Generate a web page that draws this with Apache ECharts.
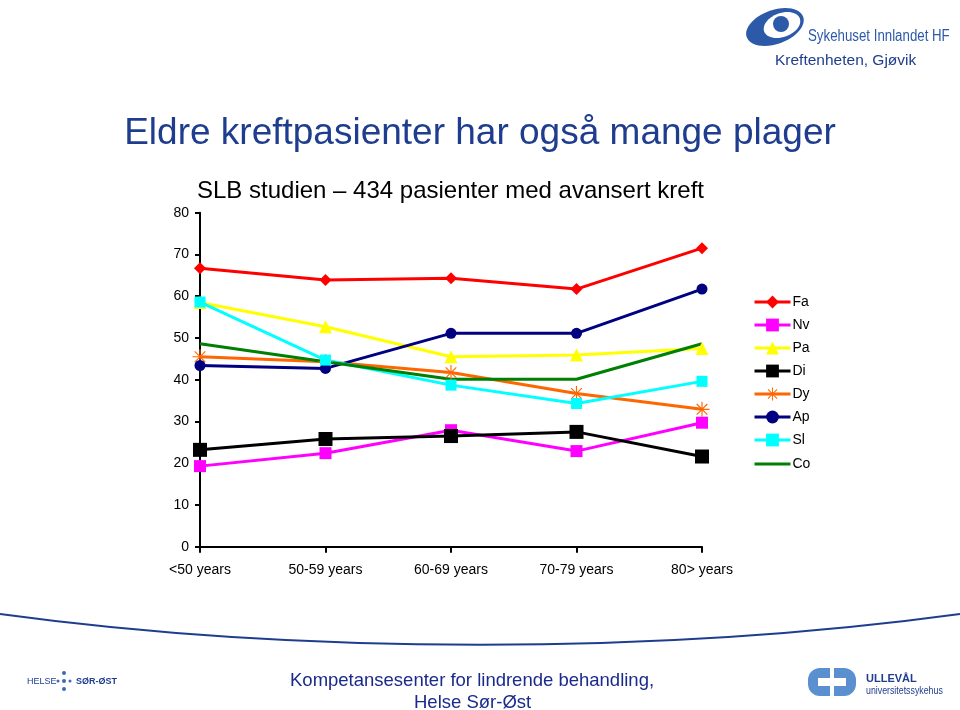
<!DOCTYPE html>
<html><head><meta charset="utf-8">
<script src="https://cdn.jsdelivr.net/npm/echarts@6/dist/echarts.min.js"></script>
<style>html,body{margin:0;padding:0;background:#fff}#c{width:960px;height:710px}</style>
</head><body><div id="c"></div>
<script>
const categories = ['<50 years', '50-59 years', '60-69 years', '70-79 years', '80> years'];
const seriesNames = ['Fa', 'Nv', 'Pa', 'Di', 'Dy', 'Ap', 'Sl', 'Co'];
const Fa = [66.7, 63.9, 64.3, 61.7, 71.5];
const Nv = [19.3, 22.4, 27.9, 22.9, 29.7];
const Pa = [58.5, 52.7, 45.5, 45.9, 47.5];
const Di = [23.2, 25.8, 26.5, 27.5, 21.6];
const Dy = [45.5, 44.3, 41.7, 36.7, 32.9];
const Ap = [43.4, 42.7, 51.1, 51.1, 61.7];
const Sl = [58.6, 44.7, 38.7, 34.3, 39.6];
const Co = [48.6, 44.3, 40.1, 40.1, 48.6];
const yTicks = [0, 10, 20, 30, 40, 50, 60, 70, 80];

const star = 'path://M-0.6,-8L0.6,-8L0.6,8L-0.6,8Z M-8,-0.6L8,-0.6L8,0.6L-8,0.6Z M-6.1,-5.25L-5.25,-6.1L6.1,5.25L5.25,6.1Z M5.25,-6.1L6.1,-5.25L-5.25,6.1L-6.1,5.25Z';
const lineOnlyIcon = 'path://M0,0L0.01,0L0.01,0.01Z M0,6.6L36,6.6L36,9.4L0,9.4Z M35.99,16L36,16L36,15.99Z';
const styles = {
  Fa: {color: '#ff0000', symbol: 'diamond', size: 12},
  Nv: {color: '#ff00ff', symbol: 'rect', size: 12},
  Pa: {color: '#ffff00', symbol: 'triangle', size: 13},
  Di: {color: '#000000', symbol: 'rect', size: 14},
  Dy: {color: '#ff6600', symbol: star, size: 15},
  Ap: {color: '#000080', symbol: 'circle', size: 11},
  Sl: {color: '#00ffff', symbol: 'rect', size: 11},
  Co: {color: '#008000', symbol: 'none', size: 0}
};
const dataMap = {Fa, Nv, Pa, Di, Dy, Ap, Sl, Co};

const chart = echarts.init(document.getElementById('c'), null, {renderer: 'canvas'});
const font = 'Liberation Sans, Arial, sans-serif';
chart.setOption({
  backgroundColor: '#ffffff',
  animation: false,
  textStyle: {fontFamily: font},
  grid: {left: 200, right: 258, top: 212.7, bottom: 163.3, containLabel: false},
  legend: {
    orient: 'vertical', left: 748, top: 290, itemGap: 9, itemWidth: 36, itemHeight: 16,
    textStyle: {fontSize: 14, color: '#000', fontFamily: font, padding: [0, 0, 0, -3]},
    lineStyle: {width: 3},
    data: seriesNames.map(n => n === 'Co' ? {name: n, icon: lineOnlyIcon} : n)
  },
  xAxis: {
    type: 'category', data: categories, boundaryGap: false,
    axisLine: {lineStyle: {color: '#000', width: 2}},
    axisTick: {show: true, length: 6, lineStyle: {color: '#000', width: 2}, alignWithLabel: true},
    axisLabel: {fontSize: 14, color: '#000', margin: 16, fontFamily: font},
    splitLine: {show: false}
  },
  yAxis: {
    type: 'value', min: 0, max: 80, interval: 10,
    axisLine: {show: true, lineStyle: {color: '#000', width: 2}},
    axisTick: {show: true, length: 5, lineStyle: {color: '#000', width: 2}},
    axisLabel: {fontSize: 14, color: '#000', margin: 11, fontFamily: font},
    splitLine: {show: false}
  },
  series: seriesNames.map(n => ({
    name: n, type: 'line', data: dataMap[n],
    symbol: styles[n].symbol, symbolSize: styles[n].size, showSymbol: styles[n].symbol !== 'none',
    lineStyle: {color: styles[n].color, width: 3},
    itemStyle: {color: styles[n].color, borderWidth: 0},
    z: 2
  })),
  graphic: [
    {type: 'text', left: 'center', top: 115, style: {text: 'Eldre kreftpasienter har også mange plager', font: '37px ' + font, fill: '#1f3d8f'}},
    {type: 'text', left: 197, top: 179, style: {text: 'SLB studien \u2013 434 pasienter med avansert kreft', font: '24px ' + font, fill: '#000'}},
    // top right logo
    {type: 'ellipse', shape: {cx: 775, cy: 27, rx: 30, ry: 17}, rotation: 0.35, originX: 775, originY: 27, style: {fill: '#2c5aa8'}},
    {type: 'ellipse', shape: {cx: 782, cy: 25, rx: 19, ry: 12}, rotation: 0.35, originX: 782, originY: 25, style: {fill: '#ffffff'}},
    {type: 'circle', shape: {cx: 781, cy: 24, r: 8}, style: {fill: '#2c5aa8'}},
    {type: 'text', x: 808, y: 29, scaleX: 0.83, style: {text: 'Sykehuset Innlandet HF', font: '16px ' + font, fill: '#2c5aa8'}},
    {type: 'text', left: 775, top: 53, style: {text: 'Kreftenheten, Gjøvik', font: '15.5px ' + font, fill: '#1f3d8f'}},
    // bottom curve
    {type: 'bezierCurve', shape: {x1: 0, y1: 614, cpx1: 300, cpy1: 655, cpx2: 660, cpy2: 655, x2: 960, y2: 614}, style: {stroke: '#1f3d8f', lineWidth: 2, fill: null}},
    // footer
    {type: 'text', left: 290, top: 671, style: {text: 'Kompetansesenter for lindrende behandling,', font: '18.5px ' + font, fill: '#1a2a8c'}},
    {type: 'text', left: 414, top: 693, style: {text: 'Helse Sør-Øst', font: '18.5px ' + font, fill: '#1a2a8c'}},
    {type: 'text', left: 27, top: 677, style: {text: 'HELSE', font: '9px ' + font, fill: '#1f3d8f'}},
    {type: 'circle', shape: {cx: 64, cy: 673, r: 2}, style: {fill: '#3a6ab8'}},
    {type: 'circle', shape: {cx: 64, cy: 681, r: 2}, style: {fill: '#3a6ab8'}},
    {type: 'circle', shape: {cx: 64, cy: 689, r: 2}, style: {fill: '#3a6ab8'}},
    {type: 'circle', shape: {cx: 58, cy: 681, r: 1.5}, style: {fill: '#3a6ab8'}},
    {type: 'circle', shape: {cx: 70, cy: 681, r: 1.5}, style: {fill: '#3a6ab8'}},
    {type: 'text', left: 76, top: 677, style: {text: 'SØR-ØST', font: 'bold 9px ' + font, fill: '#1f3d8f'}},
    {type: 'rect', shape: {x: 808, y: 668, width: 22, height: 28, r: [12, 0, 0, 12]}, style: {fill: '#5a8fd0'}},
    {type: 'rect', shape: {x: 834, y: 668, width: 22, height: 28, r: [0, 12, 12, 0]}, style: {fill: '#5a8fd0'}},
    {type: 'rect', shape: {x: 818, y: 678, width: 28, height: 8}, style: {fill: '#ffffff'}},
    {type: 'text', left: 866, top: 673, style: {text: 'ULLEVÅL', font: 'bold 11px ' + font, fill: '#1f3d8f'}},
    {type: 'text', x: 866, y: 686, scaleX: 0.88, style: {text: 'universitetssykehus', font: '10px ' + font, fill: '#1f3d8f'}}
  ]
});
</script></body></html>
